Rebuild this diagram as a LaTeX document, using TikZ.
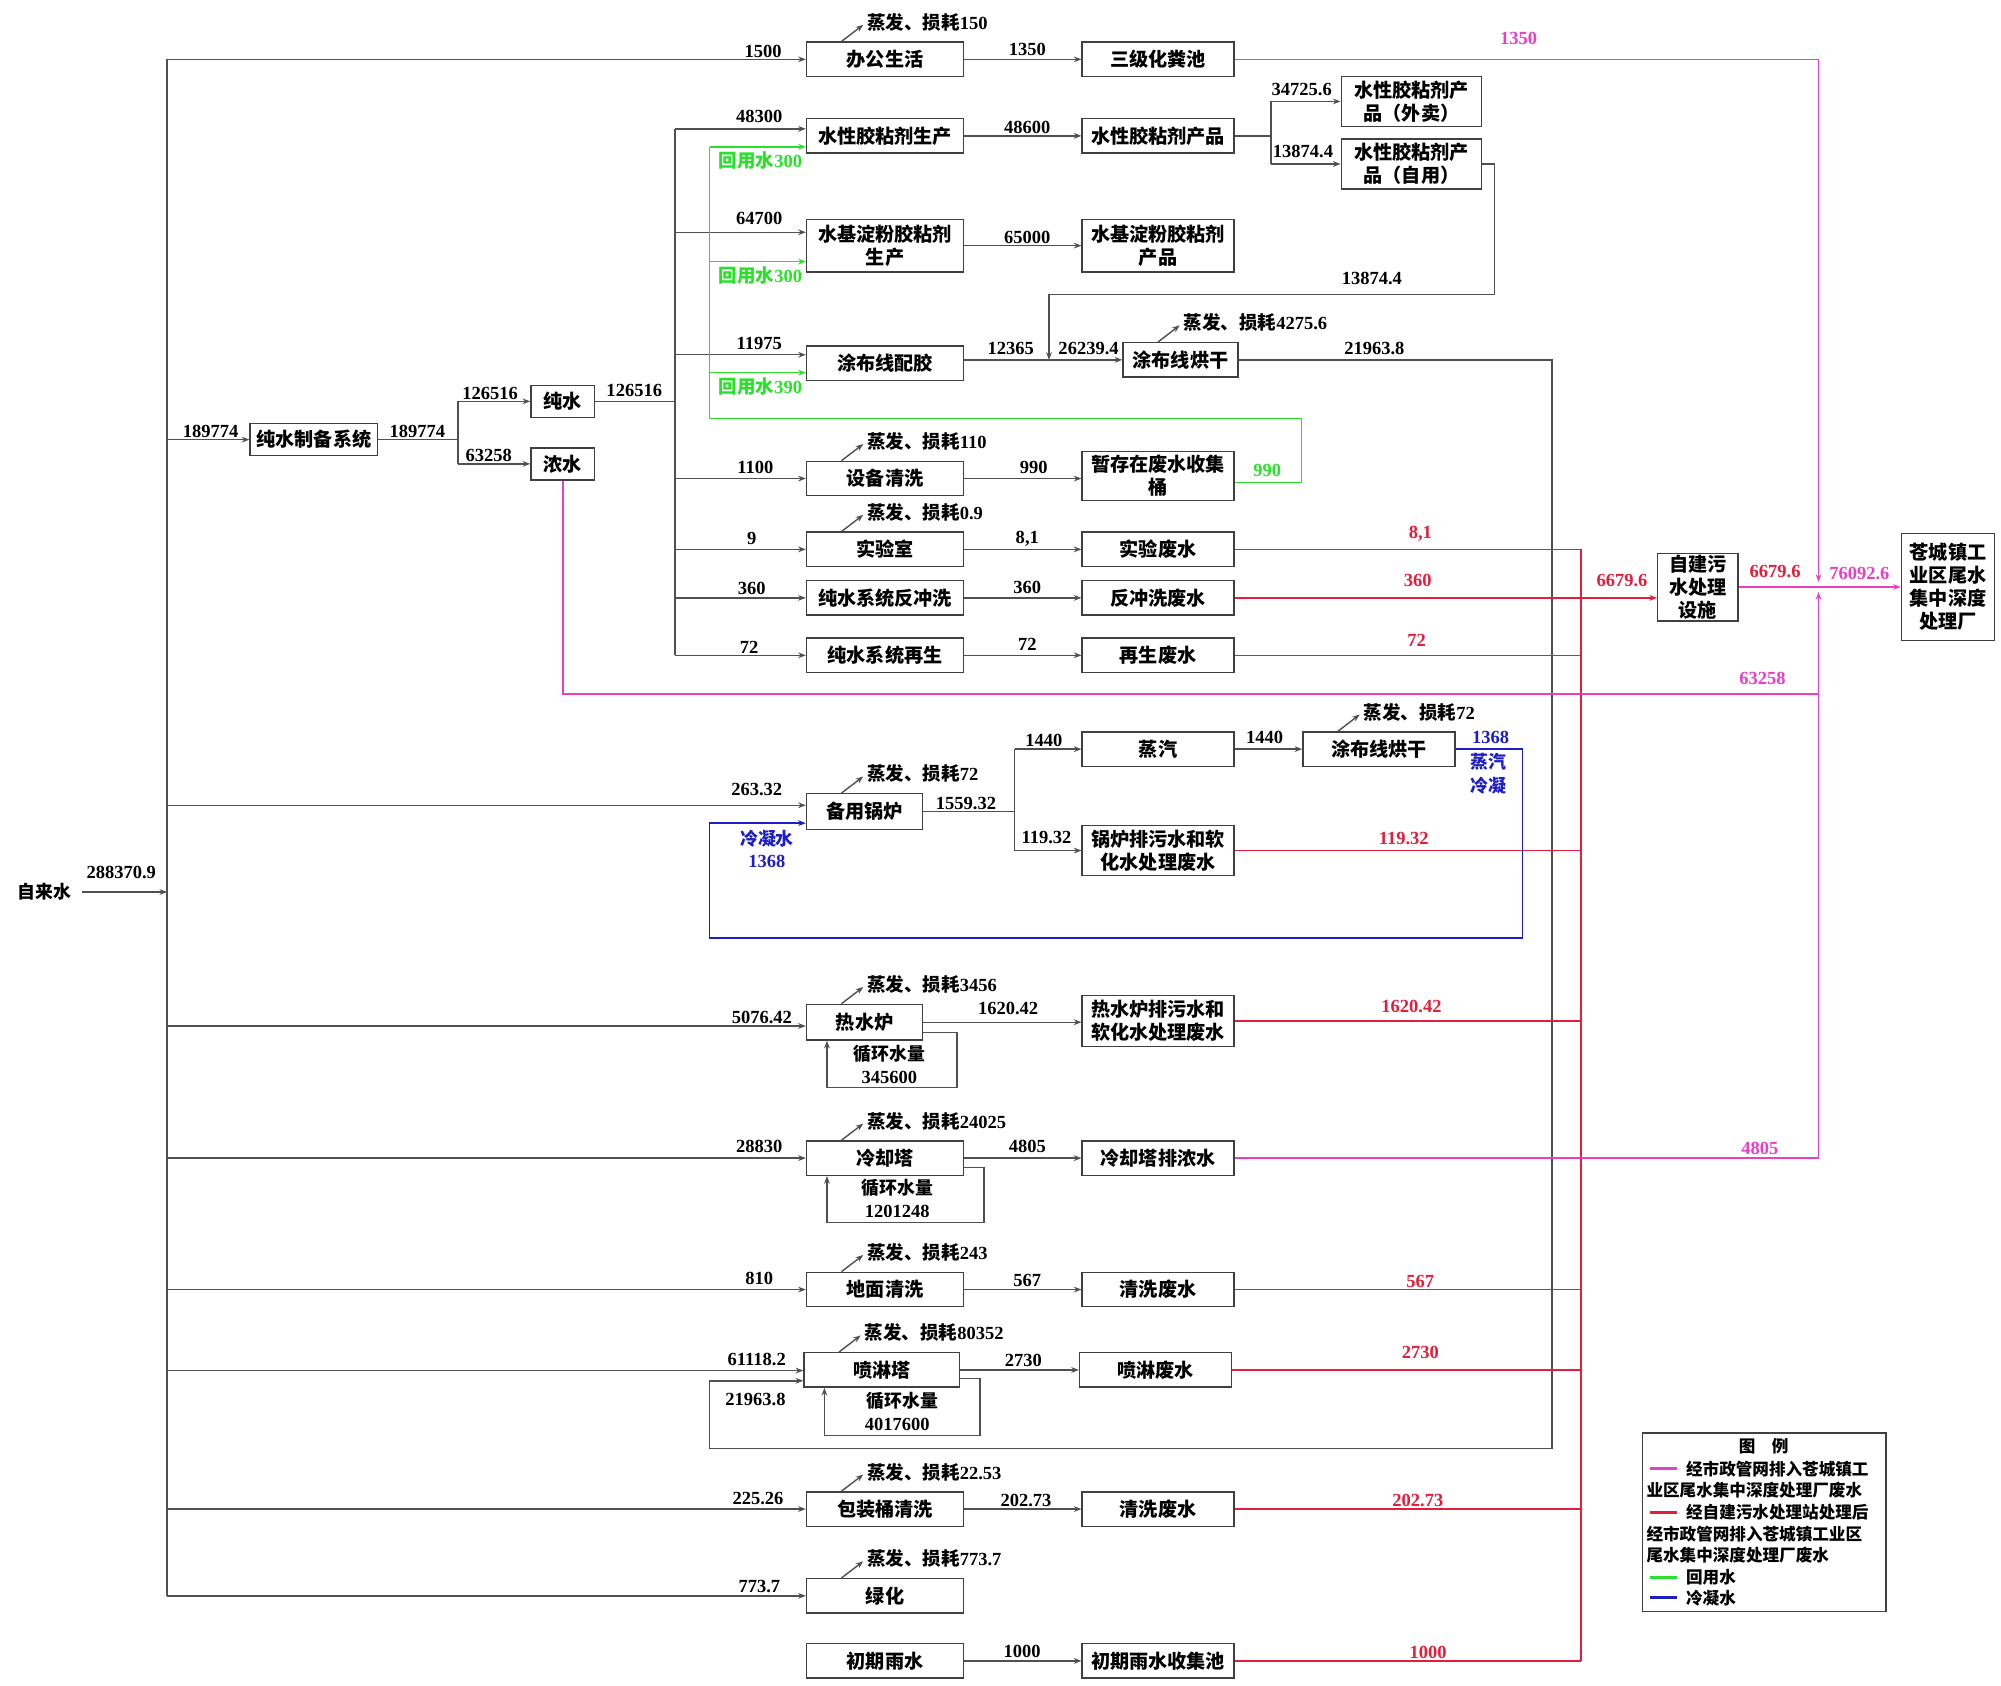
\documentclass[tikz,border=0pt]{standalone}
\usepackage{fontspec}
\setmainfont{Liberation Serif}
\newfontfamily\zhfont{Noto Sans CJK SC}
\usetikzlibrary{arrows.meta}
\definecolor{mag}{RGB}{232,64,196}
\definecolor{rd}{RGB}{228,30,58}
\definecolor{gn}{RGB}{40,225,40}
\definecolor{bl}{RGB}{30,30,200}
\definecolor{lnc}{RGB}{80,80,80}
\newcommand\zh[1]{{\zhfont #1}}
\newcommand\evap[3]{%
 \coordinate (#2a) at ([xshift=28pt]#1.north west);
 \coordinate (#2b) at ([xshift=45pt,yshift=13pt]#1.north west);
 \draw[arr] (#2a) -- (#2b);
 \node[nm, anchor=west] (#2) at ([xshift=3pt,yshift=2pt]#2b) {\zh{蒸发、损耗}#3};
}
\begin{document}
\begin{tikzpicture}[x=1pt,y=-1pt,
 bx/.style={draw=black!75, line width=1.1pt, fill=white, align=center, inner sep=0pt, font=\zhfont\bfseries\fontsize{15}{18}\selectfont},
 wa/.style={bx, minimum width=123pt, minimum height=27pt},
 wb/.style={bx, minimum width=119pt, minimum height=27pt},
 nm/.style={inner sep=0pt, font=\bfseries\fontsize{14.5}{17}\selectfont},
 cn/.style={inner sep=0pt, font=\zhfont\bfseries\fontsize{14}{17}\selectfont},
 lt/.style={inner sep=0pt, anchor=west, font=\zhfont\bfseries\fontsize{13}{15}\selectfont},
 ln/.style={draw=lnc, line width=1.1pt},
 tip/.style={-{Stealth[length=6pt,width=4.5pt]}},
 arr/.style={ln, tip},
 rl/.style={draw=rd, line width=1.2pt},
 ml/.style={draw=mag, line width=1.2pt},
 gl/.style={draw=gn, line width=1.2pt},
 bll/.style={draw=bl, line width=1.2pt},
]
\useasboundingbox (0,0) rectangle (1568,1321);

% ---------- boxes ----------
\node[wa] (n01) at (693.5,46.5) {办公生活};
\node[wb] (n02) at (907.5,46.5) {三级化粪池};
\node[wa] (n03) at (693.5,106.5) {水性胶粘剂生产};
\node[wb] (n04) at (907.5,106.5) {水性胶粘剂产品};
\node[bx, minimum width=110pt, minimum height=39pt] (n05) at (1106,79.5) {水性胶粘剂产\\品（外卖）};
\node[bx, minimum width=110pt, minimum height=39pt] (n06) at (1106,128.5) {水性胶粘剂产\\品（自用）};
\node[bx, minimum width=123pt, minimum height=41pt] (n07) at (693.5,192.5) {水基淀粉胶粘剂\\生产};
\node[bx, minimum width=119pt, minimum height=41pt] (n08) at (907.5,192.5) {水基淀粉胶粘剂\\产品};
\node[wa] (n09) at (693.5,284.5) {涂布线配胶};
\node[bx, minimum width=90pt, minimum height=27pt] (n10) at (925,282) {涂布线烘干};
\node[bx, minimum width=100pt, minimum height=25pt] (n11) at (246,344.5) {纯水制备系统};
\node[bx, minimum width=50pt, minimum height=25pt] (n12) at (441,314.5) {纯水};
\node[bx, minimum width=50pt, minimum height=25pt] (n13) at (441,363.5) {浓水};
\node[wa] (n14) at (693.5,375) {设备清洗};
\node[bx, minimum width=119pt, minimum height=38pt] (n15) at (907.5,373) {暂存在废水收集\\桶};
\node[wa] (n16) at (693.5,430.5) {实验室};
\node[wb] (n17) at (907.5,430.5) {实验废水};
\node[wa] (n18) at (693.5,468.5) {纯水系统反冲洗};
\node[wb] (n19) at (907.5,468.5) {反冲洗废水};
\node[wa] (n20) at (693.5,513.5) {纯水系统再生};
\node[wb] (n21) at (907.5,513.5) {再生废水};
\node[bx, minimum width=63pt, minimum height=53pt] (n22) at (1330.5,460) {自建污\\水处理\\设施};
\node[bx, minimum width=73pt, minimum height=84pt] (n23) at (1526.5,460) {苍城镇工\\业区尾水\\集中深度\\处理厂};
\node[wb] (n24) at (907.5,587) {蒸汽};
\node[wb] (n25) at (1080.5,587) {涂布线烘干};
\node[bx, minimum width=91pt, minimum height=28pt] (n26) at (677.5,636) {备用锅炉};
\node[bx, minimum width=119pt, minimum height=39pt] (n27) at (907.5,666.5) {锅炉排污水和软\\化水处理废水};
\node[bx, minimum width=91pt, minimum height=28pt] (n28) at (677.5,801) {热水炉};
\node[bx, minimum width=119pt, minimum height=40pt] (n29) at (907.5,800) {热水炉排污水和\\软化水处理废水};
\node[wa] (n30) at (693.5,907.5) {冷却塔};
\node[wb] (n31) at (907.5,907.5) {冷却塔排浓水};
\node[wa] (n32) at (693.5,1010.5) {地面清洗};
\node[wb] (n33) at (907.5,1010.5) {清洗废水};
\node[bx, minimum width=122pt, minimum height=27pt] (n34) at (691,1073.5) {喷淋塔};
\node[wb] (n35) at (905.5,1073.5) {喷淋废水};
\node[wa] (n36) at (693.5,1182.5) {包装桶清洗};
\node[wb] (n37) at (907.5,1182.5) {清洗废水};
\node[wa] (n38) at (693.5,1250.5) {绿化};
\node[wa] (n39) at (693.5,1301.5) {初期雨水};
\node[wb] (n40) at (907.5,1301.5) {初期雨水收集池};

% ---------- trunk ----------
\node[cn] (src) at (35,699) {自来水};
\coordinate (tS) at (131,699);
\coordinate (tA) at (131,46.5);
\coordinate (tI) at (131,1250.5);
\draw[ln] (tA) -- (tI);
\draw[arr] ([xshift=8pt]src.east) -- (tS);
\node[nm] (l00) at (95,684) {288370.9};

\draw[arr] (tA) -- (n01);
\node[nm] (l01) at (598,40) {1500};
\draw[arr] (n01) -- (n02);
\node[nm] (l02) at (805,39) {1350};

% ---------- pure water ----------
\coordinate (tB) at (131,344.5);
\draw[arr] (tB) -- (n11);
\node[nm] (l03) at (165,338) {189774};
\coordinate (j1) at (359,344.5);
\coordinate (j1u) at (359,314.5);
\coordinate (j1d) at (359,363.5);
\draw[ln] (n11) -- (j1);
\draw[ln] (j1u) -- (j1d);
\draw[arr] (j1u) -- (n12);
\draw[arr] (j1d) -- (n13);
\node[nm] (l04) at (327,338) {189774};
\node[nm] (l05) at (384,308) {126516};
\node[nm] (l06) at (383,357) {63258};

\coordinate (b0) at (529,314.5);
\draw[ln] (n12) -- (b0);
\node[nm] (l07) at (497,306) {126516};
\coordinate (b1) at (529,101);
\coordinate (b2) at (529,182);
\coordinate (b3) at (529,278);
\coordinate (b4) at (529,375);
\coordinate (b5) at (529,430.5);
\coordinate (b6) at (529,468.5);
\coordinate (b7) at (529,513.5);
\draw[ln] (b1) -- (b7);
\draw[arr] (b1) -- (b1 -| n03.west);
\draw[arr] (b2) -- (b2 -| n07.west);
\draw[arr] (b3) -- (b3 -| n09.west);
\draw[arr] (b4) -- (n14);
\draw[arr] (b5) -- (n16);
\draw[arr] (b6) -- (n18);
\draw[arr] (b7) -- (n20);
\node[nm] (l08) at (595,91) {48300};
\node[nm] (l09) at (595,171) {64700};
\node[nm] (l10) at (595,269) {11975};
\node[nm] (l11) at (592,366) {1100};
\node[nm] (l12) at (589,422) {9};
\node[nm] (l13) at (589,461) {360};
\node[nm] (l14) at (587,507) {72};

% ---------- green reuse ----------
\coordinate (g1) at (556,115);
\coordinate (g2) at (556,205);
\coordinate (g3) at (556,292);
\coordinate (g4) at (556,328);
\coordinate (g5) at (1020,328);
\coordinate (g6) at (1020,378);
\draw[gl] (n15.east |- g6) -- (g6) -- (g5) -- (g4) -- (g1);
\draw[gl, tip] (g1) -- (g1 -| n03.west);
\draw[gl, tip] (g2) -- (g2 -| n07.west);
\draw[gl, tip] (g3) -- (g3 -| n09.west);
\node[nm, text=gn] (lg1) at (596,126) {\zh{回用水}300};
\node[nm, text=gn] (lg2) at (596,216) {\zh{回用水}300};
\node[nm, text=gn] (lg3) at (596,303) {\zh{回用水}390};
\node[nm, text=gn] (lg4) at (993,369) {990};

% ---------- products ----------
\draw[arr] (n03) -- (n04);
\node[nm] (l15) at (805,100) {48600};
\draw[arr] (n07) -- (n08);
\node[nm] (l16) at (805,186) {65000};
\coordinate (c1) at (996,106.5);
\coordinate (c2) at (996,79.5);
\coordinate (c3) at (996,128.5);
\draw[ln] (n04) -- (c1);
\draw[ln] (c2) -- (c3);
\draw[arr] (c2) -- (n05);
\draw[arr] (c3) -- (n06);
\node[nm] (l17) at (1020,70) {34725.6};
\node[nm] (l18) at (1021,119) {13874.4};
\coordinate (c4) at (1171,128.5);
\coordinate (c5) at (1171,231);
\coordinate (c6) at (822,231);
\coordinate (m) at (822,282);
\draw[arr] (n06) -- (c4) -- (c5) -- (c6) -- (m);
\node[nm] (l19) at (1075,218) {13874.4};
\draw[ln] (n09.east |- m) -- (m);
\draw[arr] (m) -- (n10);
\node[nm] (l20) at (792,273) {12365};
\node[nm] (l21) at (853,273) {26239.4};

\coordinate (d1) at (1216,282);
\coordinate (d2) at (1216,1135);
\coordinate (d3) at (556,1135);
\coordinate (d4) at (556,1082);
\draw[arr] (n10) -- (d1) -- (d2) -- (d3) -- (d4) -- (d4 -| n34.west);
\node[nm] (l22) at (1077,273) {21963.8};
\node[nm] (l23) at (592,1097) {21963.8};

\draw[arr] (n14) -- (n15.west |- n14);
\node[nm] (l24) at (810,366) {990};
\draw[arr] (n16) -- (n17);
\node[nm] (l25) at (805,422) {8,1};
\draw[arr] (n18) -- (n19);
\node[nm] (l26) at (805,460) {360};
\draw[arr] (n20) -- (n21);
\node[nm] (l27) at (805,505) {72};

% ---------- red ----------
\coordinate (r1) at (1239,430.5);
\coordinate (r9) at (1239,1301.5);
\draw[rl] (r1) -- (r9);
\draw[rl] (n17) -- (r1);
\draw[rl, tip] (n19) -- (n19.east -| n22.west);
\draw[rl] (n21) -- (n21 -| r1);
\draw[rl] (n27) -- (n27 -| r1);
\draw[rl] (n29) -- (n29 -| r1);
\draw[rl] (n33) -- (n33 -| r1);
\draw[rl] (n35) -- (n35 -| r1);
\draw[rl] (n37) -- (n37 -| r1);
\draw[rl] (n40) -- (r9);
\node[nm, text=rd] (lr1) at (1113,418) {8,1};
\node[nm, text=rd] (lr2) at (1111,455) {360};
\node[nm, text=rd] (lr3) at (1110,502) {72};
\node[nm, text=rd] (lr4) at (1271,455) {6679.6};
\node[nm, text=rd] (lr5) at (1100,657) {119.32};
\node[nm, text=rd] (lr6) at (1106,789) {1620.42};
\node[nm, text=rd] (lr7) at (1113,1004) {567};
\node[nm, text=rd] (lr8) at (1113,1060) {2730};
\node[nm, text=rd] (lr9) at (1111,1176) {202.73};
\node[nm, text=rd] (lr10) at (1119,1295) {1000};
\node[nm, text=rd] (lr11) at (1391,448) {6679.6};

% ---------- magenta ----------
\coordinate (q1) at (1425,46.5);
\coordinate (qa) at (1425,456);
\coordinate (qj) at (1425,460);
\coordinate (qb) at (1425,464);
\coordinate (q4) at (1425,907.5);
\draw[ml, tip] (n02) -- (q1) -- (qa);
\draw[ml, tip] (n31) -- (q4) -- (qb);
\coordinate (p1) at (441,544);
\coordinate (p2) at (1425,544);
\draw[ml] (n13) -- (p1) -- (p2);
\draw[ml] (n22) -- (qj);
\draw[ml, tip] (qj) -- (n23);
\node[nm, text=mag] (lm1) at (1190,30) {1350};
\node[nm, text=mag] (lm2) at (1381,532) {63258};
\node[nm, text=mag] (lm3) at (1379,900) {4805};
\node[nm, text=mag] (lm4) at (1457,449) {76092.6};

% ---------- boiler ----------
\coordinate (tC) at (131,631);
\draw[arr] (tC) -- (tC -| n26.west);
\node[nm] (l28) at (593,619) {263.32};
\coordinate (e1) at (795,636);
\coordinate (e2) at (795,587);
\coordinate (e3) at (795,666.5);
\draw[ln] (n26) -- (e1);
\draw[ln] (e2) -- (e3);
\draw[arr] (e2) -- (n24);
\draw[arr] (e3) -- (n27);
\node[nm] (l29) at (757,630) {1559.32};
\node[nm] (l30) at (818,580) {1440};
\node[nm] (l31) at (820,656) {119.32};
\draw[arr] (n24) -- (n25);
\node[nm] (l32) at (991,578) {1440};
\coordinate (k1) at (1193,587);
\coordinate (k2) at (1193,735);
\coordinate (k3) at (556,735);
\coordinate (k4) at (556,645);
\draw[bll, tip] (n25) -- (k1) -- (k2) -- (k3) -- (k4) -- (k4 -| n26.west);
\node[nm, text=bl] (lb1) at (1168,578) {1368};
\node[cn, text=bl] (lb2) at (1166,597) {蒸汽};
\node[cn, text=bl] (lb3) at (1166,616) {冷凝};
\node[cn, text=bl] (lb4) at (601,657) {冷凝水};
\node[nm, text=bl] (lb5) at (601,675) {1368};

% ---------- hot water boiler ----------
\coordinate (tD) at (131,804);
\draw[arr] (tD) -- (tD -| n28.west);
\node[nm] (l33) at (597,797) {5076.42};
\coordinate (h1) at (750,809);
\coordinate (h2) at (750,852);
\coordinate (h3) at (648,852);
\draw[arr] (n28.east |- h1) -- (h1) -- (h2) -- (h3) -- (h3 |- n28.south);
\node[cn] (lh1) at (697,826) {循环水量};
\node[nm] (lh2) at (697,844) {345600};
\draw[arr] (n28) -- (n28 -| n29.west);
\node[nm] (l34) at (790,790) {1620.42};

% ---------- cooling tower ----------
\coordinate (tE) at (131,907.5);
\draw[arr] (tE) -- (n30);
\node[nm] (l35) at (595,898) {28830};
\coordinate (o1) at (771,915);
\coordinate (o2) at (771,958);
\coordinate (o3) at (648,958);
\draw[arr] (n30.east |- o1) -- (o1) -- (o2) -- (o3) -- (o3 |- n30.south);
\node[cn] (lo1) at (703,931) {循环水量};
\node[nm] (lo2) at (703,949) {1201248};
\draw[arr] (n30) -- (n31);
\node[nm] (l36) at (805,898) {4805};

% ---------- floor cleaning ----------
\coordinate (tF) at (131,1010.5);
\draw[arr] (tF) -- (n32);
\node[nm] (l37) at (595,1002) {810};
\draw[arr] (n32) -- (n33);
\node[nm] (l38) at (805,1003) {567};

% ---------- spray tower ----------
\coordinate (tG) at (131,1074);
\draw[arr] (tG) -- (tG -| n34.west);
\node[nm] (l39) at (593,1065) {61118.2};
\coordinate (s1) at (768,1080);
\coordinate (s2) at (768,1125);
\coordinate (s3) at (646,1125);
\draw[arr] (n34.east |- s1) -- (s1) -- (s2) -- (s3) -- (s3 |- n34.south);
\node[cn] (ls1) at (707,1098) {循环水量};
\node[nm] (ls2) at (703,1116) {4017600};
\draw[arr] (n34) -- (n35);
\node[nm] (l40) at (802,1066) {2730};

% ---------- bucket cleaning, greening, rain ----------
\coordinate (tH) at (131,1182.5);
\draw[arr] (tH) -- (n36);
\node[nm] (l41) at (594,1174) {225.26};
\draw[arr] (n36) -- (n37);
\node[nm] (l42) at (804,1176) {202.73};
\draw[arr] (tI) -- (n38);
\node[nm] (l43) at (595,1243) {773.7};
\draw[arr] (n39) -- (n40);
\node[nm] (l44) at (801,1294) {1000};

% ---------- evaporation ----------
\evap{n01}{v01}{150}
\evap{n14}{v02}{110}
\evap{n16}{v03}{0.9}
\evap{n10}{v04}{4275.6}
\evap{n26}{v05}{72}
\evap{n25}{v06}{72}
\evap{n28}{v07}{3456}
\evap{n30}{v08}{24025}
\evap{n32}{v09}{243}
\evap{n34}{v10}{80352}
\evap{n36}{v11}{22.53}
\evap{n38}{v12}{773.7}

% ---------- legend ----------
\node[draw=black!75, line width=1.1pt, minimum width=191pt, minimum height=140pt, inner sep=0pt] (lg) at (1382.5,1193) {};
\node[inner sep=0pt, font=\zhfont\bfseries\fontsize{13}{15}\selectfont] (lgt) at (1382,1133) {图\quad 例};
\draw[mag, line width=2.5pt] (1293,1151) -- (1314,1151);
\node[lt] (lt1) at (1321,1151) {经市政管网排入苍城镇工};
\node[lt] (lt2) at (1290,1168) {业区尾水集中深度处理厂废水};
\draw[rd, line width=2.5pt] (1293,1185) -- (1314,1185);
\node[lt] (lt3) at (1321,1185) {经自建污水处理站处理后};
\node[lt] (lt4) at (1290,1202) {经市政管网排入苍城镇工业区};
\node[lt] (lt5) at (1290,1219) {尾水集中深度处理厂废水};
\draw[gn, line width=2.5pt] (1293,1236) -- (1314,1236);
\node[lt] (lt6) at (1321,1236) {回用水};
\draw[bl, line width=2.5pt] (1293,1252) -- (1314,1252);
\node[lt] (lt7) at (1321,1252) {冷凝水};
\end{tikzpicture}
\end{document}
